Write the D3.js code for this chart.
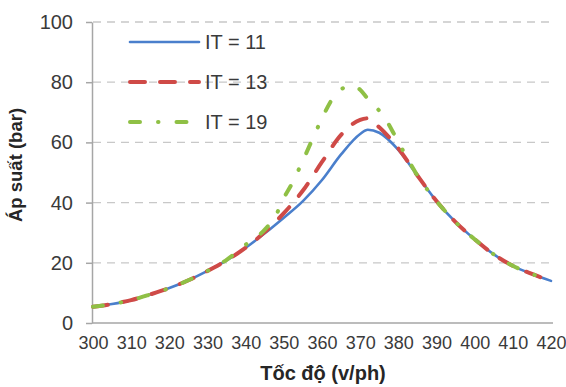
<!DOCTYPE html>
<html>
  <head>
    <style>
      body { margin: 0; background: #fff; }
      svg { font-family: "Liberation Sans", Arial, sans-serif; }
      .grid line { stroke: #c8c8c8; stroke-width: 1.3; stroke-dasharray: 8,6; }
      .axis path, .axis line { stroke: #a6a6a6; stroke-width: 1.5; }
      .axis text { fill: #3a3a3a; }
      .series { fill: none; stroke-linecap: round; stroke-linejoin: round; }
    </style>
    <script src="https://d3js.org/d3.v7.min.js"></script>
  </head>

  <body>
    <svg width="566" height="387"></svg>

    <script>
      // toc do (v/ph) and ap suat (bar)
      var speedIT11 = [300, 305, 310, 315, 320, 325, 330, 335, 340, 345, 350, 355, 360, 365, 370, 372, 375, 380, 385, 390, 395, 400, 405, 410, 415, 420];
      var pressIT11 = [5.4, 6.3, 7.6, 9.5, 11.6, 14.2, 17.3, 20.8, 25, 29.8, 35, 40.5, 47.5, 56, 62.8, 64.2, 63.2, 57.5, 49, 40.5, 33.5, 27.8, 22.8, 19, 16.3, 14];

      var speedIT13 = [300, 305, 310, 315, 320, 325, 330, 335, 340, 345, 350, 355, 360, 365, 370, 372, 375, 380, 385, 390, 395, 400, 405, 410, 415, 420];
      var pressIT13 = [5.4, 6.3, 7.6, 9.5, 11.6, 14.2, 17.3, 20.8, 25, 30.2, 36.5, 44, 53.5, 62.5, 67.5, 68, 65, 58, 49, 40.5, 33.5, 27.8, 22.8, 19, 16.3, 14];

      var speedIT19 = [300, 305, 310, 315, 320, 325, 330, 335, 340, 345, 348, 350, 352, 355, 358, 360, 363, 366, 368, 370, 372, 375, 377, 379, 382, 385, 390, 395, 400, 405, 410, 415, 420];
      var pressIT19 = [5.4, 6.3, 7.6, 9.5, 11.6, 14.2, 17.3, 21, 26, 31, 36, 41.5, 46, 54, 62.5, 68, 75, 78.3, 78.8, 77.5, 74.5, 70.5, 67, 62.5, 55.5, 49, 40.5, 33.5, 27.8, 22.8, 19, 16.3, 14];

      var seriesNames = ["IT = 11", "IT = 13", "IT = 19"];
      var yTicks = [0, 20, 40, 60, 80, 100];
      var xTicks = [300, 310, 320, 330, 340, 350, 360, 370, 380, 390, 400, 410, 420];

      var styles = [
        { color: "#4a7fcc", width: 2.6, dash: null },
        { color: "#cf4a47", width: 4, dash: "15,15" },
        { color: "#8fc045", width: 4, dash: "10,18,0.5,18" }
      ];

      var svg = d3.select("svg");

      var x = d3.scaleLinear().domain([300, 420]).range([93, 551]);
      var y = d3.scaleLinear().domain([0, 100]).range([323, 22]);

      // gridlines
      svg.append("g")
        .attr("class", "grid")
        .selectAll("line")
        .data(yTicks.filter(function (d) { return d > 0; }))
        .enter()
        .append("line")
        .attr("x1", 93)
        .attr("x2", 553)
        .attr("y1", function (d) { return y(d); })
        .attr("y2", function (d) { return y(d); });

      // axes
      svg.append("g")
        .attr("class", "axis")
        .attr("transform", "translate(92,0)")
        .call(d3.axisLeft(y).tickValues(yTicks).tickSize(6).tickSizeOuter(0).tickPadding(13))
        .selectAll("text")
        .style("font-size", "20px");

      var xa = svg.append("g")
        .attr("class", "axis")
        .attr("transform", "translate(0,323)")
        .call(d3.axisBottom(x).tickValues(xTicks).tickSize(0).tickPadding(13));
      xa.select(".domain").attr("d", "M92,0H553");
      xa.selectAll("text").style("font-size", "18px");

      // series
      var line = d3.line()
        .x(function (d) { return x(d[0]); })
        .y(function (d) { return y(d[1]); })
        .curve(d3.curveMonotoneX);

      var data = [
        d3.zip(speedIT11, pressIT11),
        d3.zip(speedIT13, pressIT13),
        d3.zip(speedIT19, pressIT19)
      ];

      // blue underneath, dashed series drawn over it
      [0, 1, 2].forEach(function (i) {
        svg.append("path")
          .datum(data[i])
          .attr("class", "series")
          .attr("d", line)
          .attr("stroke", styles[i].color)
          .attr("stroke-width", styles[i].width)
          .attr("stroke-dasharray", styles[i].dash);
      });

      // legend
      var legend = svg.append("g");
      seriesNames.forEach(function (name, i) {
        var ly = 42 + i * 40;
        legend.append("line")
          .attr("x1", 130)
          .attr("x2", 199)
          .attr("y1", ly)
          .attr("y2", ly)
          .attr("class", "series")
          .attr("stroke", styles[i].color)
          .attr("stroke-width", styles[i].width)
          .attr("stroke-dasharray", styles[i].dash);
        legend.append("text")
          .attr("x", 205)
          .attr("y", ly)
          .attr("dy", "0.36em")
          .style("font-size", "20px")
          .style("fill", "#3a3a3a")
          .text(name);
      });

      // axis titles
      svg.append("text")
        .attr("x", 323)
        .attr("y", 380)
        .attr("text-anchor", "middle")
        .style("font-size", "20px")
        .style("font-weight", "bold")
        .style("fill", "#262626")
        .text("Tốc độ (v/ph)");

      svg.append("text")
        .attr("transform", "translate(22,165) rotate(-90)")
        .attr("text-anchor", "middle")
        .style("font-size", "18.5px")
        .style("font-weight", "bold")
        .style("fill", "#262626")
        .text("Áp suất (bar)");
    </script>
  </body>
</html>
